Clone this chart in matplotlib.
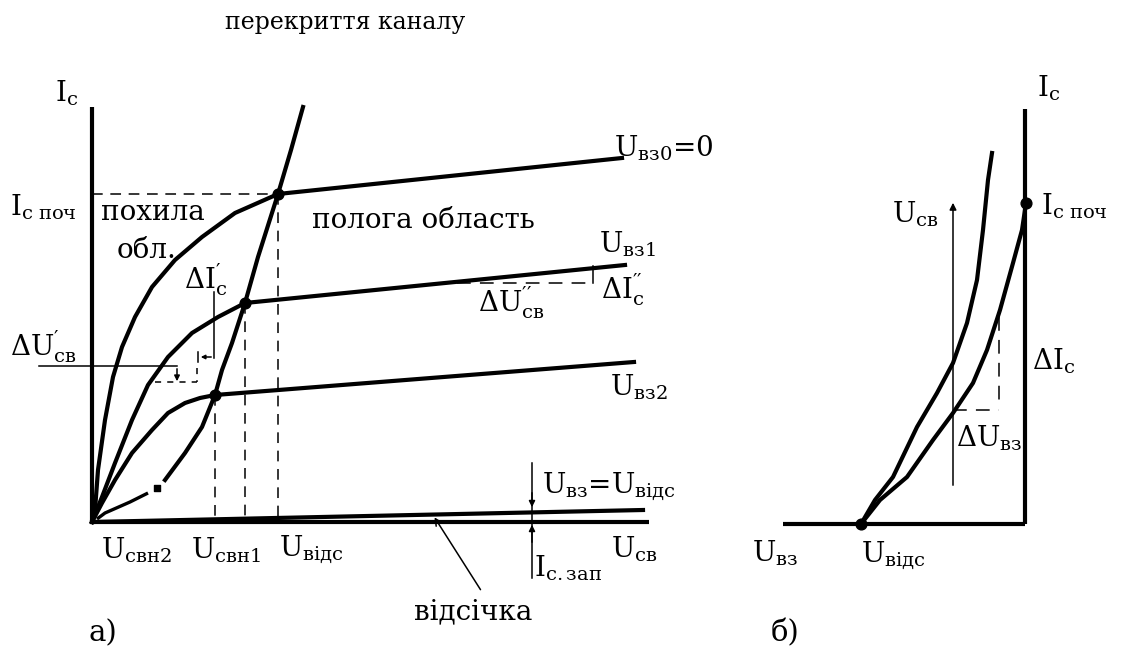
import matplotlib
matplotlib.use("Agg")
import matplotlib.pyplot as plt

plt.rcParams['font.family'] = ['DejaVu Serif']
plt.rcParams['mathtext.fontset'] = 'custom'
plt.rcParams['mathtext.rm'] = 'DejaVu Serif'
plt.rcParams['mathtext.it'] = 'DejaVu Serif'

# --- panel a) output characteristics (picture coordinates, y down) ---
ugs0_x = [92, 95, 98, 105, 113, 122, 135, 152, 175, 202, 235, 278]
ugs0_y = [522, 510, 470, 420, 377, 347, 317, 287, 260, 237, 213, 194]
ugs1_x = [92, 102, 115, 132, 148, 168, 192, 218, 245]
ugs1_y = [522, 497, 463, 420, 385, 357, 333, 317, 303]
ugs2_x = [92, 102, 115, 132, 152, 168, 185, 200, 215]
ugs2_y = [522, 503, 480, 453, 430, 413, 403, 398, 395]

# saturation parts (flat region)
flat_x0 = [278, 245, 215]
flat_x1 = [622, 625, 634]
flat_y0 = [194, 303, 395]
flat_y1 = [158, 265, 362]

# cutoff curve
cut_x = [92, 643]
cut_y = [522, 510]

# pinch-off locus
locus_x = [165, 185, 202, 215, 222, 232, 245, 258, 278, 291, 303]
locus_y = [480, 453, 427, 395, 370, 343, 303, 257, 194, 150, 107]
locus_dash_x = [97, 105, 130, 148]
locus_dash_y = [519, 513, 502, 493]
locus_dot_x = [157]
locus_dot_y = [488]

# --- panel б) transfer characteristics ---
tr1_x = [861, 880, 907, 933, 953, 973, 987, 1000, 1013, 1022, 1026]
tr1_y = [524, 500, 477, 440, 413, 383, 350, 310, 263, 230, 203]
tr2_x = [861, 875, 893, 917, 937, 953, 967, 977, 983, 988, 992]
tr2_y = [524, 500, 477, 427, 393, 363, 323, 280, 230, 180, 153]

fig = plt.figure(figsize=(11.24, 6.54), dpi=100)
ax = fig.add_axes([0, 0, 1, 1])
ax.set_xlim(0, 1124)
ax.set_ylim(654, 0)
ax.axis('off')

K = 'black'
thick = 3.0
thin = 1.1
fs = 20

# axes of panel a
ax.plot([92, 92], [107, 522], color=K, lw=thick, solid_capstyle='butt')
ax.plot([92, 649], [522, 522], color=K, lw=thick, solid_capstyle='butt')

# curves
for xs, ys in [(ugs0_x, ugs0_y), (ugs1_x, ugs1_y), (ugs2_x, ugs2_y)]:
    ax.plot(xs, ys, color=K, lw=thick, solid_joinstyle='round')
for a, b, c, d in zip(flat_x0, flat_x1, flat_y0, flat_y1):
    ax.plot([a, b], [c, d], color=K, lw=thick)
ax.plot(cut_x, cut_y, color=K, lw=thick)
ax.plot(locus_x, locus_y, color=K, lw=thick, solid_joinstyle='round')
ax.plot(locus_dash_x, locus_dash_y, color=K, lw=2.4, solid_capstyle='butt')
ax.scatter(locus_dot_x, locus_dot_y, s=14, color=K, marker='s')

# knee dots
ax.scatter(flat_x0, flat_y0, s=60, color=K, zorder=5)

# dashed guide lines
dash = (0, (7, 5))
ax.plot([92, 278], [194, 194], color=K, lw=thin, linestyle=dash)
for x0, y0 in zip(flat_x0, flat_y0):
    ax.plot([x0, x0], [y0, 522], color=K, lw=thin, linestyle=dash)

# ΔU'св / ΔI'с construction
ax.plot([39, 177], [366, 366], color=K, lw=thin)
ax.annotate('', xy=(177, 384), xytext=(177, 366),
            arrowprops=dict(arrowstyle='-|>', color=K, lw=thin, mutation_scale=8))
ax.plot([155, 197], [382, 382], color=K, lw=thin, linestyle=(0, (4, 4)))
ax.plot([197, 197], [368, 382], color=K, lw=thin, linestyle=(0, (4, 4)))
ax.plot([214, 214], [292, 358], color=K, lw=thin)
ax.annotate('', xy=(198, 357), xytext=(214, 357),
            arrowprops=dict(arrowstyle='-|>', color=K, lw=thin, mutation_scale=6))
ax.plot([198, 198], [352, 362], color=K, lw=thin)

# ΔU''св construction
ax.plot([457, 593], [283, 283], color=K, lw=thin, linestyle=(0, (9, 6)))
ax.plot([593, 593], [266, 283], color=K, lw=thin)

# cutoff current arrows
ax.plot([532, 532], [463, 578], color=K, lw=thin)
ax.annotate('', xy=(532, 510), xytext=(532, 490),
            arrowprops=dict(arrowstyle='-|>', color=K, lw=thin, mutation_scale=9))
ax.annotate('', xy=(532, 522), xytext=(532, 545),
            arrowprops=dict(arrowstyle='-|>', color=K, lw=thin, mutation_scale=9))

# відсічка pointer
ax.annotate('', xy=(433, 515), xytext=(482, 592),
            arrowprops=dict(arrowstyle='->', color=K, lw=thin, mutation_scale=12))

# panel б axes
ax.plot([783, 1025], [524, 524], color=K, lw=thick, solid_capstyle='butt')
ax.plot([1025, 1025], [109, 524], color=K, lw=thick, solid_capstyle='butt')
ax.plot(tr1_x, tr1_y, color=K, lw=thick, solid_joinstyle='round')
ax.plot(tr2_x, tr2_y, color=K, lw=thick, solid_joinstyle='round')
ax.scatter([tr1_x[0], tr1_x[-1]], [tr1_y[0], tr1_y[-1]], s=60, color=K, zorder=5)
ax.annotate('', xy=(953, 200), xytext=(953, 488),
            arrowprops=dict(arrowstyle='-|>', color=K, lw=thin, mutation_scale=10))
ax.plot([999, 999], [317, 408], color=K, lw=thin, linestyle=(0, (9, 6)))
ax.plot([953, 999], [410, 410], color=K, lw=thin, linestyle=(0, (9, 6)))


def lab(x, y, s, size=fs):
    ax.text(x, y, s, fontsize=size, ha='left', va='center', color=K)


# texts panel a
ax.text(345, 22, 'перекриття каналу', fontsize=17, ha='center', va='center')
lab(55, 93, r'$\mathrm{I_{с}}$')
lab(10, 207, r'$\mathrm{I_{с\ поч}}$')
lab(101, 212, 'похила')
lab(117, 250, 'обл.')
lab(312, 220, 'полога область')
lab(614, 148, r'$\mathrm{U_{вз0}}$=0')
lab(599, 244, r'$\mathrm{U_{вз1}}$')
lab(184, 280, r'$\mathrm{\Delta I_{с}^{\prime}}$')
lab(478, 303, r'$\mathrm{\Delta U_{св}^{\prime\prime}}$')
lab(601, 290, r'$\mathrm{\Delta I_{с}^{\prime\prime}}$')
lab(10, 347, r'$\mathrm{\Delta U_{св}^{\prime}}$')
lab(610, 387, r'$\mathrm{U_{вз2}}$')
lab(542, 487, r'$\mathrm{U_{вз}}$=$\mathrm{U_{відс}}$')
lab(101, 550, r'$\mathrm{U_{свн2}}$')
lab(191, 550, r'$\mathrm{U_{свн1}}$')
lab(279, 550, r'$\mathrm{U_{відс}}$')
lab(534, 568, r'$\mathrm{I_{с.зап}}$')
lab(611, 549, r'$\mathrm{U_{св}}$')
lab(414, 612, 'відсічка')
lab(88, 633, 'а)', size=21)

# texts panel б
lab(1037, 88, r'$\mathrm{I_{с}}$')
lab(1041, 206, r'$\mathrm{I_{с\ поч}}$')
lab(892, 214, r'$\mathrm{U_{св}}$')
lab(1032, 361, r'$\mathrm{\Delta I_{с}}$')
lab(956, 438, r'$\mathrm{\Delta U_{вз}}$')
lab(752, 553, r'$\mathrm{U_{вз}}$')
lab(861, 556, r'$\mathrm{U_{відс}}$')
lab(771, 633, 'б)', size=21)

fig.savefig('out.png', dpi=100)
